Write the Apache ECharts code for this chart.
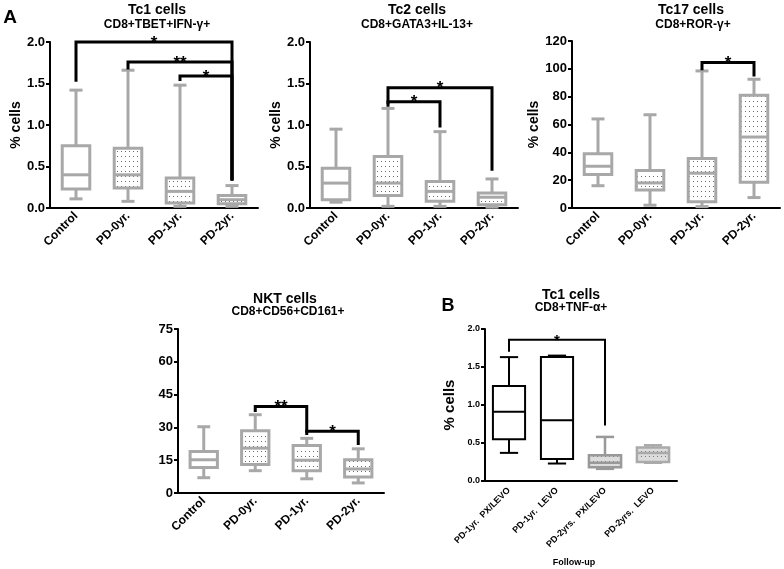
<!DOCTYPE html>
<html><head><meta charset="utf-8">
<script src="https://cdn.jsdelivr.net/npm/echarts@6/dist/echarts.min.js"></script>
<style>html,body{margin:0;padding:0;background:#fff}#c{width:784px;height:569px}</style>
</head><body><div id="c"></div>
<script>
// ---------- DATA ----------
const groupsA = ['Control', 'PD-0yr.', 'PD-1yr.', 'PD-2yr.'];
const groupsB = ['PD-1yr.  PX/LEVO', 'PD-1yr.  LEVO', 'PD-2yrs.  PX/LEVO', 'PD-2yrs.  LEVO'];
// [min, Q1, median, Q3, max]
const tc1Values  = [[0.11,0.23,0.40,0.75,1.42],[0.08,0.24,0.40,0.72,1.66],[0.02,0.06,0.20,0.36,1.48],[0.02,0.05,0.10,0.15,0.27]];
const tc2Values  = [[0.07,0.10,0.30,0.48,0.95],[0.02,0.15,0.30,0.62,1.20],[0.02,0.08,0.20,0.32,0.92],[0.01,0.04,0.13,0.18,0.35]];
const tc17Values = [[16,24,30,39,64],[2,13,18,27,67],[1,4.5,25,35.5,98.5],[7.5,18.5,51,81,92.5]];
const nktValues  = [[7,11.7,15.2,19,30.3],[10.2,13,20.5,28.5,35.8],[6.5,10.2,15,21.7,25],[4.6,7.3,11,15.2,20.2]];
const tnfValues  = [[0.37,0.55,0.91,1.25,1.63],[0.23,0.29,0.80,1.63,1.65],[0.16,0.18,0.24,0.34,0.58],[0.24,0.25,0.37,0.44,0.47]];
// significance brackets: [fromIdx, toIdx, yTop, yLeftEnd, yRightEnd]
const tc1Brackets  = [[0,3,2.0,1.52,0.33],[1,3,1.76,1.67,0.33],[2,3,1.59,1.53,0.33]];
const tc1Stars     = ['*','**','*'];
const tc2Brackets  = [[1,3,1.45,1.25,0.45],[1,2,1.28,1.22,0.97]];
const tc2Stars     = ['*','*'];
const tc17Brackets = [[2,3,104.5,99,94.5]];
const tc17Stars    = ['*'];
const nktBrackets  = [[1,2,39.6,37,27.5],[2,3,28.2,26.5,22]];
const nktStars     = ['**','*'];
const tnfBrackets  = [[0,2,1.86,1.70,0.73]];
const tnfStars     = ['*'];
// axis ticks
const ticksPct = {min:0, max:2, interval:0.5};
const ticks17  = {min:0, max:120, interval:20};
const ticksNKT = {min:0, max:75, interval:15};

// ---------- STYLE ----------
const FONT = 'Liberation Sans, Arial, Helvetica, sans-serif';
function makePattern(bg, dot, w, h) {
  const c = document.createElement('canvas');
  c.width = w; c.height = h;
  const ctx = c.getContext('2d');
  ctx.fillStyle = bg; ctx.fillRect(0, 0, w, h);
  ctx.fillStyle = dot; ctx.fillRect(1, 1, 1, 1);
  return {image: c, repeat: 'repeat'};
}
const dots = makePattern('#ffffff', '#6a6a6a', 4, 5);
const grayDots = makePattern('#dcdcdc', '#7a7a7a', 4, 5);
const G = '#a8a8a8';
const styleA = {box: 0.53, cap: 0.25, items: [
  {stroke: G, lw: 3, fill: '#ffffff'}, {stroke: G, lw: 3, fill: dots},
  {stroke: G, lw: 3, fill: dots}, {stroke: G, lw: 3, fill: dots}]};
const styleB = {box: 0.67, cap: 0.38, items: [
  {stroke: '#000', lw: 2, fill: '#ffffff'}, {stroke: '#000', lw: 2, fill: '#ffffff'},
  {stroke: '#999', lw: 2.5, fill: grayDots}, {stroke: '#aaa', lw: 2.5, fill: grayDots}]};

function boxRender(style) {
  return function (params, api) {
    const i = api.value(0);
    const pMin = api.coord([i, api.value(1)]);
    const pQ1 = api.coord([i, api.value(2)]);
    const pMed = api.coord([i, api.value(3)]);
    const pQ3 = api.coord([i, api.value(4)]);
    const pMax = api.coord([i, api.value(5)]);
    const band = api.size([1, 0])[0];
    const x = pMin[0];
    const hw = band * style.box / 2, cw = band * style.cap / 2;
    const st = style.items[params.dataIndex];
    const ls = {stroke: st.stroke, lineWidth: st.lw};
    return {type: 'group', children: [
      {type: 'line', shape: {x1: x, y1: pMax[1], x2: x, y2: pQ3[1]}, style: ls},
      {type: 'line', shape: {x1: x, y1: pQ1[1], x2: x, y2: pMin[1]}, style: ls},
      {type: 'line', shape: {x1: x - cw, y1: pMax[1], x2: x + cw, y2: pMax[1]}, style: ls},
      {type: 'line', shape: {x1: x - cw, y1: pMin[1], x2: x + cw, y2: pMin[1]}, style: ls},
      {type: 'rect', shape: {x: x - hw, y: pQ3[1], width: 2 * hw, height: pQ1[1] - pQ3[1]},
        style: {fill: st.fill, stroke: st.stroke, lineWidth: st.lw}},
      {type: 'line', shape: {x1: x - hw, y1: pMed[1], x2: x + hw, y2: pMed[1]}, style: ls}
    ]};
  };
}
function bracketRender(stars, lw, fs) {
  return function (params, api) {
    const a = api.value(0), b = api.value(1);
    const p1 = api.coord([a, api.value(3)]);
    const p2 = api.coord([a, api.value(2)]);
    const p3 = api.coord([b, api.value(2)]);
    const p4 = api.coord([b, api.value(4)]);
    return {type: 'group', children: [
      {type: 'polyline', shape: {points: [p1, p2, p3, p4]}, style: {stroke: '#000', lineWidth: lw, fill: null}},
      {type: 'text', x: (p2[0] + p3[0]) / 2, y: p2[1] + 1,
        style: {text: stars[params.dataIndex], font: 'bold ' + fs + 'px ' + FONT, fill: '#000',
          align: 'center', verticalAlign: 'middle'}}
    ]};
  };
}

const grids = [
  {left: 50, top: 42, width: 208, height: 166},
  {left: 310, top: 42, width: 208, height: 166},
  {left: 572, top: 41, width: 208, height: 167},
  {left: 178, top: 329, width: 206, height: 164},
  {left: 485, top: 329, width: 192, height: 152}
].map(g => Object.assign({outerBoundsMode: 'none', containLabel: false}, g));

function xAx(gi, data, fs, margin) {
  return {gridIndex: gi, type: 'category', data: data, boundaryGap: true,
    axisLine: {lineStyle: {color: '#000', width: 2}},
    axisTick: {alignWithLabel: true, length: 5, lineStyle: {color: '#000', width: 2}},
    axisLabel: {rotate: 45, interval: 0, color: '#000', fontWeight: 'bold', fontSize: fs, fontFamily: FONT, margin: margin}};
}
function yAx(gi, t, fs, dec, name, gap, nfs) {
  return {gridIndex: gi, type: 'value', min: t.min, max: t.max, interval: t.interval,
    axisLine: {show: true, lineStyle: {color: '#000', width: 2}},
    axisTick: {show: true, length: 4, lineStyle: {color: '#000', width: 2}},
    splitLine: {show: false},
    axisLabel: {color: '#000', fontWeight: 'bold', fontSize: fs, fontFamily: FONT, margin: 5,
      formatter: v => v.toFixed(dec)},
    name: name, nameLocation: 'middle', nameGap: gap,
    nameTextStyle: {color: '#000', fontWeight: 'bold', fontSize: nfs, fontFamily: FONT}};
}
function toBox(vals) { return vals.map((v, i) => [i].concat(v)); }
function boxSeries(gi, vals, style) {
  return {type: 'custom', xAxisIndex: gi, yAxisIndex: gi, renderItem: boxRender(style),
    encode: {x: 0, y: [1, 2, 3, 4, 5]}, data: toBox(vals), clip: false, silent: true};
}
function brSeries(gi, br, stars, lw, fs) {
  return {type: 'custom', xAxisIndex: gi, yAxisIndex: gi, renderItem: bracketRender(stars, lw, fs),
    encode: {x: 0, y: 2}, data: br, clip: false, silent: true, z: 5};
}
function txt(t, x, y, size) {
  return {type: 'text', x: x, y: y, style: {text: t, font: 'bold ' + size + 'px ' + FONT, fill: '#000',
    align: 'center', verticalAlign: 'middle'}};
}

const option = {
  animation: false,
  backgroundColor: '#fff',
  textStyle: {fontFamily: FONT},
  grid: grids,
  xAxis: [xAx(0, groupsA, 12, 6), xAx(1, groupsA, 12, 6), xAx(2, groupsA, 12, 6), xAx(3, groupsA, 12, 6), xAx(4, groupsB, 9, 8)],
  yAxis: [yAx(0, ticksPct, 13, 1, '% cells', 23, 14), yAx(1, ticksPct, 13, 1, '% cells', 17, 14),
    yAx(2, ticks17, 13, 0, '% cells', 19, 14), yAx(3, ticksNKT, 13, 0, '', 20, 14),
    yAx(4, ticksPct, 9, 1, '% cells', 28, 15)],
  series: [
    boxSeries(0, tc1Values, styleA), brSeries(0, tc1Brackets, tc1Stars, 3, 17),
    boxSeries(1, tc2Values, styleA), brSeries(1, tc2Brackets, tc2Stars, 3, 17),
    boxSeries(2, tc17Values, styleA), brSeries(2, tc17Brackets, tc17Stars, 3, 17),
    boxSeries(3, nktValues, styleA), brSeries(3, nktBrackets, nktStars, 3, 17),
    boxSeries(4, tnfValues, styleB), brSeries(4, tnfBrackets, tnfStars, 2, 15)
  ],
  graphic: [
    txt('A', 10, 18, 19),
    txt('Tc1 cells', 157, 10, 14), txt('CD8+TBET+IFN-\u03b3+', 157, 25, 12),
    txt('Tc2 cells', 417, 10, 14), txt('CD8+GATA3+IL-13+', 417, 25, 12),
    txt('Tc17 cells', 691, 10, 14), txt('CD8+ROR-\u03b3+', 693, 25, 12),
    txt('NKT cells', 285, 299, 14), txt('CD8+CD56+CD161+', 288, 312, 12),
    txt('B', 448, 306, 18),
    txt('Tc1 cells', 571, 295, 14), txt('CD8+TNF-\u03b1+', 571, 308, 12),
    txt('Follow-up', 574, 563, 9)
  ]
};
const chart = echarts.init(document.getElementById('c'), null, {renderer: 'canvas'});
chart.setOption(option);
</script></body></html>
